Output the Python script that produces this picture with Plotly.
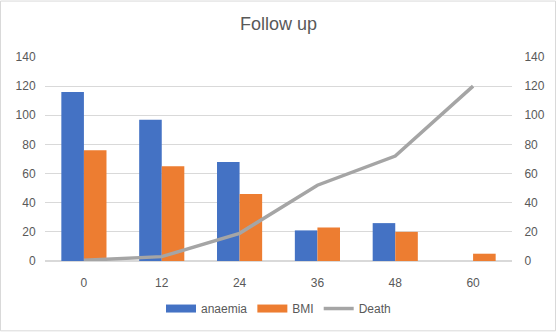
import plotly.graph_objects as go

months = ["0", "12", "24", "36", "48", "60"]
anaemia = [116, 97, 68, 21, 26, 0]
bmi = [76, 65, 46, 23, 20, 5]
death = [0.5, 3, 19, 52, 72, 120]
y_ticks = [0, 20, 40, 60, 80, 100, 120, 140]

W, H = 557, 335
ML, MR, MT, MB = 45, 45, 57, 72
pw, ph = W - ML - MR, H - MT - MB

font = "Liberation Sans"
txt = "#595959"
blue, orange, grey = "#4472C4", "#ED7D31", "#A5A5A5"

fig = go.Figure()
fig.add_trace(go.Bar(x=months, y=anaemia, name="anaemia", marker_color=blue,
                     marker_line_width=0, showlegend=False))
fig.add_trace(go.Bar(x=months, y=bmi, name="BMI", marker_color=orange,
                     marker_line_width=0, showlegend=False))
fig.add_trace(go.Scatter(x=months, y=death, name="Death", mode="lines",
                         line=dict(color=grey, width=3.5), yaxis="y2", showlegend=False))

# legend keys drawn as wide swatches
for name, color, width in [("anaemia", blue, 8), ("BMI", orange, 8), ("Death", grey, 3.5)]:
    fig.add_trace(go.Scatter(x=[months[0]], y=[None], name=name, mode="lines",
                             line=dict(color=color, width=width), hoverinfo="skip"))

fig.update_layout(
    width=W, height=H,
    margin=dict(l=ML, r=MR, t=MT, b=MB),
    paper_bgcolor="white", plot_bgcolor="white",
    font=dict(family=font, size=12, color=txt),
    title=dict(text="Follow up", x=0.5, xanchor="center", y=1 - 24 / H, yanchor="middle",
               font=dict(family=font, size=18, color=txt)),
    barmode="group", bargap=0.42, bargroupgap=0,
    xaxis=dict(showgrid=False, showline=False, ticks="outside", ticklen=11, automargin=False,
               tickcolor="rgba(0,0,0,0)", tickfont=dict(size=12, color=txt)),
    yaxis=dict(range=[0, 140], tickvals=y_ticks, showgrid=True, gridcolor="#D9D9D9",
               gridwidth=1, zeroline=True, zerolinecolor="#D9D9D9", showline=False,
               ticks="outside", ticklen=6, tickcolor="rgba(0,0,0,0)", automargin=False,
               tickfont=dict(size=12, color=txt)),
    yaxis2=dict(range=[0, 140], tickvals=y_ticks, overlaying="y", side="right",
                showgrid=False, zeroline=False, showline=False, ticks="outside",
                ticklen=9, tickcolor="rgba(0,0,0,0)", automargin=False,
                tickfont=dict(size=12, color=txt)),
    legend=dict(orientation="h", x=0.5, xanchor="center", y=-(311 - (H - MB)) / ph,
                yanchor="middle", font=dict(size=12, color=txt), traceorder="normal",
                itemwidth=30),
    showlegend=True,
)

# outer chart border
fig.add_shape(type="rect", xref="paper", yref="paper",
              x0=-(ML - 0.5) / pw, x1=1 + (MR - 1.5) / pw,
              y0=-(MB - 1.5) / ph, y1=1 + (MT - 0.5) / ph,
              line=dict(color="#D9D9D9", width=1), fillcolor="rgba(0,0,0,0)", layer="below")

fig.write_html("out.html")
